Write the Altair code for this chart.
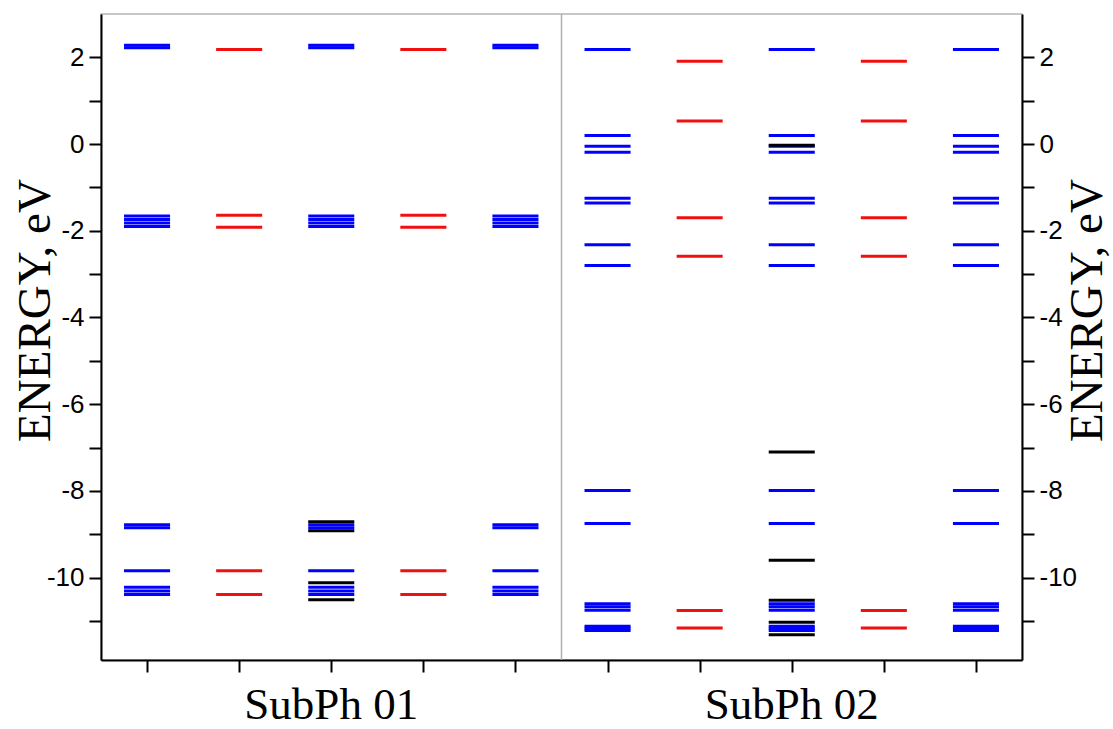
import altair as alt
import pandas as pd

# Energy levels (eV) for each structure; blue/red/black sets per column
sub1_blue = [2.28, 2.22, -1.66, -1.74, -1.82, -1.90, -8.78, -8.85, -9.84, -10.22, -10.31, -10.39]
sub1_red = [2.18, -1.64, -1.92, -9.84, -10.39]
sub1_black = [-8.71, -8.92, -10.12, -10.51]

sub2_blue = [2.18, 0.20, -0.05, -0.19, -1.25, -1.36, -2.32, -2.80, -7.99, -8.75,
             -10.60, -10.67, -10.75, -11.12, -11.17, -11.22]
sub2_red = [1.91, 0.53, -1.70, -2.59, -10.76, -11.16]
sub2_black = [-0.03, -7.10, -9.60, -10.52, -11.03, -11.32]

group_labels = ["SubPh 01", "SubPh 02"]
group_centers = [2.5, 7.5]

# column index -> (kind, levels)
columns = [
    (0, "blue", sub1_blue), (1, "red", sub1_red), (2, "blue", sub1_blue), (2, "black", sub1_black),
    (3, "red", sub1_red), (4, "blue", sub1_blue),
    (5, "blue", sub2_blue), (6, "red", sub2_red), (7, "blue", sub2_blue), (7, "black", sub2_black),
    (8, "red", sub2_red), (9, "blue", sub2_blue),
]

rows = []
for col, kind, levels in columns:
    for e in levels:
        rows.append({"x0": col + 0.25, "x1": col + 0.75, "energy": e, "kind": kind})
levels_df = pd.DataFrame(rows)

y_domain = [-11.9, 3]
x_scale = alt.Scale(domain=[0, 10], nice=False, zero=False)
y_scale = alt.Scale(domain=y_domain, nice=False, zero=False)
tick_values = list(range(-11, 3))
even_labels = "datum.value % 2 == 0 ? '' + datum.value : ''"

levels_layer = alt.Chart(levels_df).mark_rule(strokeWidth=3).encode(
    x=alt.X("x0:Q", scale=x_scale,
            axis=alt.Axis(values=[c + 0.5 for c in range(10)], labels=False, title=None,
                          tickSize=12, grid=False)),
    x2="x1:Q",
    y=alt.Y("energy:Q", scale=y_scale,
            axis=alt.Axis(orient="left", values=tick_values, labelExpr=even_labels,
                          tickSize=12, labelPadding=5, grid=False,
                          title="ENERGY, eV", titleAngle=270, titleBaseline="alphabetic",
                          titleAlign="center", titleX=-52, titleY=296)),
    color=alt.Color("kind:N",
                    scale=alt.Scale(domain=["blue", "red", "black"],
                                    range=["#0000ff", "#f01010", "#000000"]),
                    legend=None),
)

divider_df = pd.DataFrame({"x": [5], "lo": [y_domain[0]], "hi": [y_domain[1]]})
divider_layer = alt.Chart(divider_df).mark_rule(color="#b0b0b0", strokeWidth=1.5).encode(
    x=alt.X("x:Q", scale=x_scale),
    y=alt.Y("lo:Q", scale=y_scale,
            axis=alt.Axis(orient="right", values=tick_values, labelExpr=even_labels,
                          tickSize=12, labelPadding=5, grid=False,
                          title="ENERGY, eV", titleAngle=270, titleBaseline="alphabetic",
                          titleAlign="center", titleX=79, titleY=296)),
    y2="hi:Q",
)

labels_df = pd.DataFrame({"x": group_centers, "label": group_labels})
labels_layer = alt.Chart(labels_df).mark_text(
    font="Liberation Serif", fontSize=45, baseline="alphabetic", color="black"
).encode(
    x=alt.X("x:Q", scale=x_scale),
    y=alt.value(705),
    text="label:N",
)

chart = alt.layer(levels_layer, divider_layer, labels_layer).resolve_scale(
    y="independent"
).properties(
    width=921, height=646,
    padding={"left": 101, "top": 14, "right": 91, "bottom": 69},
    autosize=alt.AutoSizeParams(type="none"),
    background="white",
).configure_view(
    stroke="#b5b5b5", strokeWidth=1.5
).configure_axis(
    labelFont="Liberation Sans", labelFontSize=26, labelColor="black",
    tickColor="black", tickWidth=2, domainColor="black", domainWidth=2,
    titleFont="Liberation Serif", titleFontSize=47, titleFontWeight="normal",
    titleColor="black",
)

chart.save("out.html", embed_options={"renderer": "svg", "actions": False})
